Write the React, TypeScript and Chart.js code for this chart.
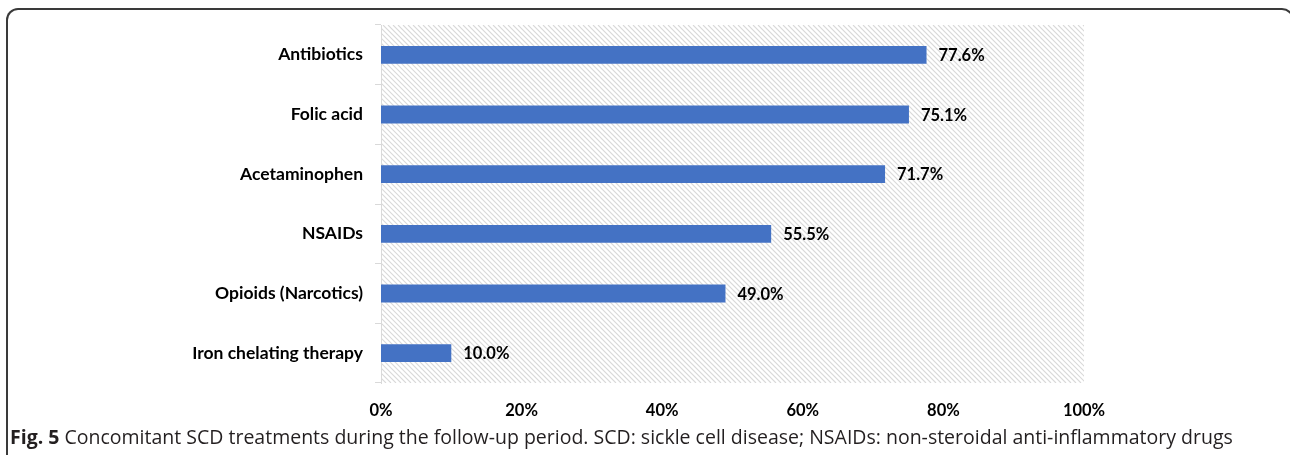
import React, { useEffect, useRef } from "react";
import { Chart, registerables } from "chart.js";

Chart.register(...registerables);

const categories = [
  "Antibiotics",
  "Folic acid",
  "Acetaminophen",
  "NSAIDs",
  "Opioids (Narcotics)",
  "Iron chelating therapy",
];
const values = [77.6, 75.1, 71.7, 55.5, 49.0, 10.0];
const xTickStep = 20;
const xMin = 0;
const xMax = 100;

const LABEL_FONT = "Lato, 'Open Sans', sans-serif";

const hatchPlugin = {
  id: "hatch",
  beforeDatasetsDraw(chart: any) {
    const { ctx, chartArea } = chart;
    const { left, right, top, bottom } = chartArea;
    const h = bottom - top;
    ctx.save();
    ctx.beginPath();
    ctx.rect(left + 1, top, right - left - 1, h);
    ctx.clip();
    ctx.strokeStyle = "#d9d9d9";
    ctx.lineWidth = 1.1;
    ctx.beginPath();
    for (let x = left - h; x < right + 5; x += 5) {
      ctx.moveTo(x, top);
      ctx.lineTo(x + h, bottom);
    }
    ctx.stroke();
    ctx.restore();
  },
};

const valueLabelPlugin = {
  id: "valueLabels",
  afterDatasetsDraw(chart: any) {
    const { ctx } = chart;
    const meta = chart.getDatasetMeta(0);
    ctx.save();
    ctx.font = `bold 16.5px ${LABEL_FONT}`;
    ctx.fillStyle = "#000";
    ctx.textAlign = "left";
    ctx.textBaseline = "middle";
    meta.data.forEach((bar: any, i: number) => {
      const v = chart.data.datasets[0].data[i] as number;
      ctx.fillText(v.toFixed(1) + "%", bar.x + 12, bar.y + 1);
    });
    ctx.restore();
  },
};

export default function App() {
  const canvasRef = useRef<HTMLCanvasElement | null>(null);

  useEffect(() => {
    if (!canvasRef.current) return;
    const chart = new Chart(canvasRef.current, {
      type: "bar",
      data: {
        labels: categories,
        datasets: [
          {
            data: values,
            backgroundColor: "#4472C4",
            borderWidth: 0,
            categoryPercentage: 1,
            barPercentage: 0.3,
          },
        ],
      },
      options: {
        indexAxis: "y",
        animation: false,
        responsive: false,
        devicePixelRatio: 1,
        layout: { padding: { top: 25, right: 206, left: 0, bottom: 0 } },
        plugins: {
          legend: { display: false },
          tooltip: { enabled: false },
        },
        scales: {
          x: {
            min: xMin,
            max: xMax,
            grid: { display: false },
            border: { display: false },
            ticks: {
              stepSize: xTickStep,
              padding: 10,
              color: "#000",
              font: { family: LABEL_FONT, size: 16.5, weight: "bold" },
              callback: (v: any) => v + "%",
            },
            afterFit: (axis: any) => {
              axis.height = 42;
            },
          },
          y: {
            grid: {
              display: true,
              drawOnChartArea: false,
              drawTicks: true,
              tickLength: 6,
              color: "#d9d9d9",
              offset: true,
            },
            border: { display: true, color: "#d9d9d9", width: 1 },
            ticks: {
              padding: 12,
              color: "#000",
              font: { family: LABEL_FONT, size: 17.5, weight: "bold" },
            },
            afterFit: (axis: any) => {
              axis.width = 381;
            },
          },
        },
      },
      plugins: [hatchPlugin, valueLabelPlugin],
    });
    return () => chart.destroy();
  }, []);

  return (
    <div
      style={{
        position: "absolute",
        left: 0,
        top: 0,
        width: 1290,
        height: 455,
        overflow: "hidden",
        background: "#fff",
      }}
    >
      <div
        style={{
          position: "absolute",
          left: 6,
          top: 8,
          width: 1288,
          height: 500,
          border: "2px solid #3a3a3a",
          borderBottom: "none",
          borderRadius: "12px 12px 0 0",
          boxSizing: "border-box",
        }}
      />
      <canvas
        ref={canvasRef}
        width={1290}
        height={425}
        style={{ position: "absolute", left: 0, top: 0, width: 1290, height: 425 }}
      />
      <div
        style={{
          position: "absolute",
          left: 10,
          top: 424,
          whiteSpace: "nowrap",
          fontFamily: "'Open Sans', sans-serif",
          fontSize: 19.5,
          color: "#231f20",
          lineHeight: "26px",
        }}
      >
        <b>Fig. 5</b> Concomitant SCD treatments during the follow-up period. SCD: sickle cell
        disease; NSAIDs: non-steroidal anti-inflammatory drugs
      </div>
    </div>
  );
}
